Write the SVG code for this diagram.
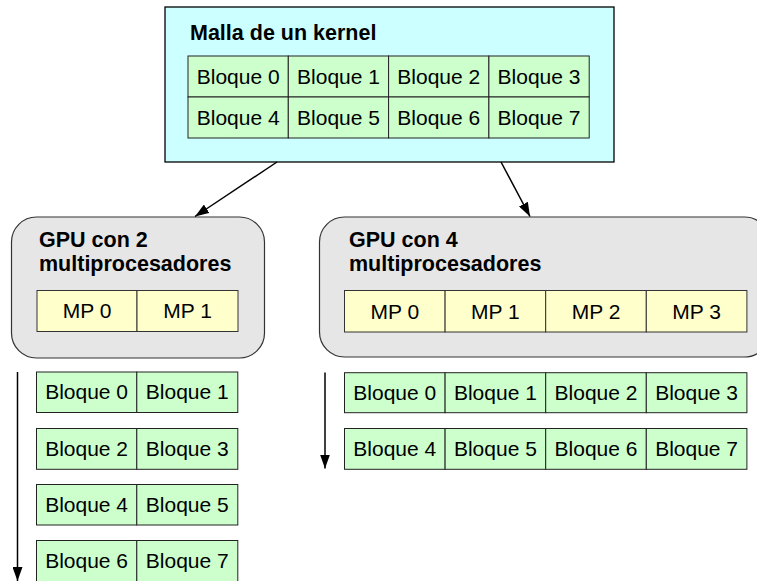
<svg xmlns="http://www.w3.org/2000/svg" width="757" height="581" viewBox="0 0 757 581">
  <style>
    .bg { fill: #ffffff; }
    .grid { fill: #ccffff; stroke: #000; stroke-width: 1.3; }
    .gpu { fill: #e6e6e6; stroke: #333; stroke-width: 1.2; }
    .blk { fill: #ccffcc; stroke: #222; stroke-width: 1; }
    .mp { fill: #ffffcc; stroke: #333; stroke-width: 1; }
    .t { font-family: "Liberation Sans", Arial, sans-serif; font-size: 21px; fill: #000; text-anchor: middle; }
    .h { font-family: "Liberation Sans", Arial, sans-serif; font-size: 21.5px; font-weight: bold; fill: #000; }
    .wire { stroke: #000; stroke-width: 1.5; fill: none; }
  </style>
  <defs>
    <marker id="ah" viewBox="0 0 10 10" refX="10" refY="5" markerWidth="10" markerHeight="8" markerUnits="userSpaceOnUse" orient="auto">
      <path d="M0,0 L10,5 L0,10 z" fill="#000"/>
    </marker>
    <marker id="ahl" viewBox="0 0 14 10" refX="14" refY="5" markerWidth="14" markerHeight="10" markerUnits="userSpaceOnUse" orient="auto">
      <path d="M0,0 L14,5 L0,10 z" fill="#000"/>
    </marker>
  </defs>
  <rect class="bg" x="0" y="0" width="757" height="581"/>

  <!-- kernel grid -->
  <g id="grid">
    <rect class="grid" x="165" y="7" width="449" height="155"/>
    <text class="h" x="190" y="39.5">Malla de un kernel</text>
    <rect class="blk" x="188" y="56" width="100.3" height="41"/>
    <rect class="blk" x="288.3" y="56" width="100.3" height="41"/>
    <rect class="blk" x="388.6" y="56" width="100.3" height="41"/>
    <rect class="blk" x="488.9" y="56" width="100.3" height="41"/>
    <rect class="blk" x="188" y="97" width="100.3" height="41"/>
    <rect class="blk" x="288.3" y="97" width="100.3" height="41"/>
    <rect class="blk" x="388.6" y="97" width="100.3" height="41"/>
    <rect class="blk" x="488.9" y="97" width="100.3" height="41"/>
    <text class="t" x="238.2" y="83.5">Bloque 0</text>
    <text class="t" x="338.5" y="83.5">Bloque 1</text>
    <text class="t" x="438.8" y="83.5">Bloque 2</text>
    <text class="t" x="539" y="83.5">Bloque 3</text>
    <text class="t" x="238.2" y="124.5">Bloque 4</text>
    <text class="t" x="338.5" y="124.5">Bloque 5</text>
    <text class="t" x="438.8" y="124.5">Bloque 6</text>
    <text class="t" x="539" y="124.5">Bloque 7</text>
  </g>

  <!-- GPU with 2 multiprocessors -->
  <g id="gpu2">
    <rect class="gpu" x="11.5" y="217" width="253" height="141" rx="25" ry="25"/>
    <text class="h" x="39" y="246.5">GPU con 2</text>
    <text class="h" x="39" y="270.5">multiprocesadores</text>
    <rect class="mp" x="37" y="290.5" width="100" height="41"/>
    <rect class="mp" x="137" y="290.5" width="101" height="41"/>
    <text class="t" x="87" y="318">MP 0</text>
    <text class="t" x="187.5" y="318">MP 1</text>
  </g>

  <!-- GPU with 4 multiprocessors -->
  <g id="gpu4">
    <rect class="gpu" x="319.5" y="217" width="450" height="140" rx="25" ry="25"/>
    <text class="h" x="349" y="247">GPU con 4</text>
    <text class="h" x="349" y="271">multiprocesadores</text>
    <rect class="mp" x="344.5" y="290.5" width="100.6" height="41.5"/>
    <rect class="mp" x="445.1" y="290.5" width="100.6" height="41.5"/>
    <rect class="mp" x="545.7" y="290.5" width="100.6" height="41.5"/>
    <rect class="mp" x="646.3" y="290.5" width="100.6" height="41.5"/>
    <text class="t" x="394.8" y="318.5">MP 0</text>
    <text class="t" x="495.4" y="318.5">MP 1</text>
    <text class="t" x="596" y="318.5">MP 2</text>
    <text class="t" x="696.6" y="318.5">MP 3</text>
  </g>

  <!-- schedule on 2 multiprocessors -->
  <g id="sched2">
    <rect class="blk" x="36.5" y="372" width="100.3" height="40.5"/>
    <rect class="blk" x="136.8" y="372" width="101" height="40.5"/>
    <rect class="blk" x="36.5" y="428.5" width="100.3" height="40.8"/>
    <rect class="blk" x="136.8" y="428.5" width="101" height="40.8"/>
    <rect class="blk" x="36.5" y="484.5" width="100.3" height="40.5"/>
    <rect class="blk" x="136.8" y="484.5" width="101" height="40.5"/>
    <rect class="blk" x="36.5" y="540.5" width="100.3" height="41.5"/>
    <rect class="blk" x="136.8" y="540.5" width="101" height="41.5"/>
    <text class="t" x="86.6" y="399">Bloque 0</text>
    <text class="t" x="187.3" y="399">Bloque 1</text>
    <text class="t" x="86.6" y="456">Bloque 2</text>
    <text class="t" x="187.3" y="456">Bloque 3</text>
    <text class="t" x="86.6" y="512">Bloque 4</text>
    <text class="t" x="187.3" y="512">Bloque 5</text>
    <text class="t" x="86.6" y="568">Bloque 6</text>
    <text class="t" x="187.3" y="568">Bloque 7</text>
  </g>

  <!-- schedule on 4 multiprocessors -->
  <g id="sched4">
    <rect class="blk" x="344.5" y="372.7" width="100.6" height="40"/>
    <rect class="blk" x="445.1" y="372.7" width="100.6" height="40"/>
    <rect class="blk" x="545.7" y="372.7" width="100.6" height="40"/>
    <rect class="blk" x="646.3" y="372.7" width="100.6" height="40"/>
    <rect class="blk" x="344.5" y="428.5" width="100.6" height="40.8"/>
    <rect class="blk" x="445.1" y="428.5" width="100.6" height="40.8"/>
    <rect class="blk" x="545.7" y="428.5" width="100.6" height="40.8"/>
    <rect class="blk" x="646.3" y="428.5" width="100.6" height="40.8"/>
    <text class="t" x="394.8" y="399.5">Bloque 0</text>
    <text class="t" x="495.4" y="399.5">Bloque 1</text>
    <text class="t" x="596" y="399.5">Bloque 2</text>
    <text class="t" x="696.6" y="399.5">Bloque 3</text>
    <text class="t" x="394.8" y="456">Bloque 4</text>
    <text class="t" x="495.4" y="456">Bloque 5</text>
    <text class="t" x="596" y="456">Bloque 6</text>
    <text class="t" x="696.6" y="456">Bloque 7</text>
  </g>

  <!-- connectors -->
  <g id="connectors">
    <line class="wire" x1="277" y1="162" x2="195" y2="216.5" marker-end="url(#ahl)"/>
    <line class="wire" x1="501" y1="162" x2="530" y2="216.5" marker-end="url(#ahl)"/>
    <line class="wire" x1="17.5" y1="372" x2="17.5" y2="581" marker-end="url(#ahl)"/>
    <line class="wire" x1="325" y1="372.5" x2="325" y2="468.5" marker-end="url(#ahl)"/>
  </g>
</svg>
